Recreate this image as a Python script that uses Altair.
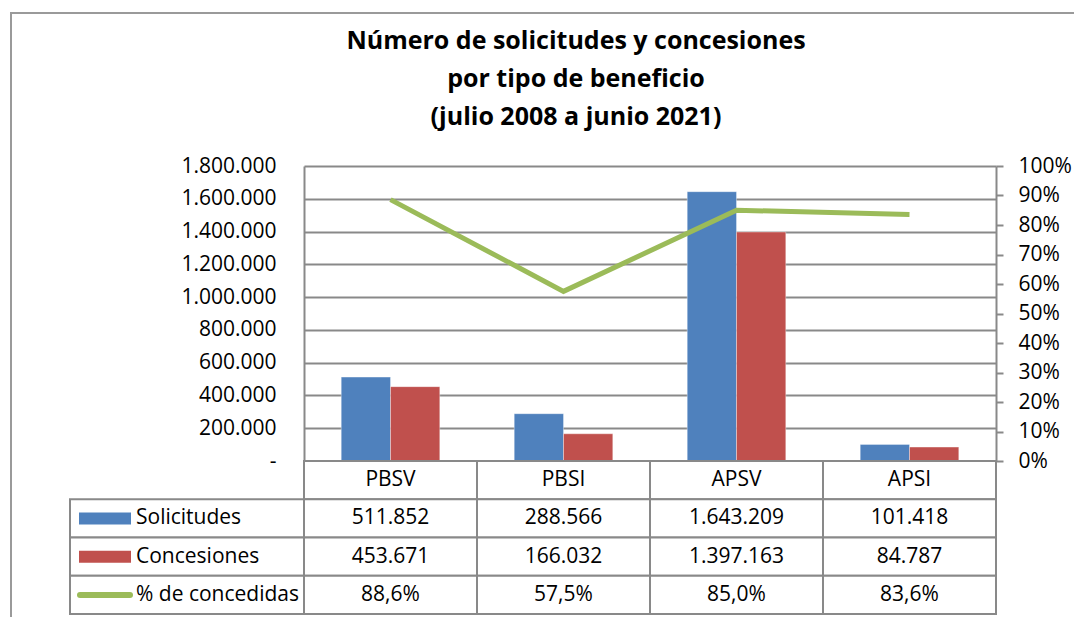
import altair as alt
import pandas as pd

# ---- data ----
categorias = ["PBSV", "PBSI", "APSV", "APSI"]
solicitudes = [511852, 288566, 1643209, 101418]
concesiones = [453671, 166032, 1397163, 84787]
pct_concedidas = [0.886, 0.575, 0.850, 0.836]

series = ["Solicitudes", "Concesiones", "% de concedidas"]
y_ticks = [0, 200000, 400000, 600000, 800000, 1000000, 1200000, 1400000, 1600000, 1800000]
pct_ticks = [0.0, 0.1, 0.2, 0.3, 0.4, 0.5, 0.6, 0.7, 0.8, 0.9, 1.0]
titulo = ["Número de solicitudes y concesiones", "por tipo de beneficio", "(julio 2008 a junio 2021)"]

# ---- styles ----
FONT = "Open Sans"
BLUE, RED, GREEN = "#4F81BD", "#C0504D", "#9BBB59"
GRID = "#898989"
FRAME = "#9a9a9a"
HDR = "Categoría"


def miles(v):
    return f"{v:,}".replace(",", ".")


def porc(p):
    return f"{p * 100:.1f}%".replace(".", ",")


bars_df = pd.DataFrame(
    [{"cat": c, "serie": series[0], "valor": v} for c, v in zip(categorias, solicitudes)]
    + [{"cat": c, "serie": series[1], "valor": v} for c, v in zip(categorias, concesiones)]
)
line_df = pd.DataFrame({"cat": categorias, "pct": pct_concedidas})

rows = []
for i, c in enumerate(categorias):
    rows.append({"row": HDR, "cat": c, "texto": c})
    rows.append({"row": series[0], "cat": c, "texto": miles(solicitudes[i])})
    rows.append({"row": series[1], "cat": c, "texto": miles(concesiones[i])})
    rows.append({"row": series[2], "cat": c, "texto": porc(pct_concedidas[i])})
table_df = pd.DataFrame(rows)
legend_df = pd.DataFrame({"row": series, "serie": series})

color_scale = alt.Scale(domain=series, range=[BLUE, RED, GREEN])
x_scale = alt.Scale(domain=categorias, paddingInner=0, paddingOuter=0)

# ---- main chart ----
x_main = alt.X("cat:N", sort=categorias, scale=x_scale, axis=None)

bars = alt.Chart(bars_df).mark_bar(stroke="white", strokeWidth=0.8, strokeOpacity=0.45).encode(
    x=x_main,
    xOffset=alt.XOffset("serie:N", sort=series[:2],
                        scale=alt.Scale(domain=series[:2], paddingInner=0, paddingOuter=0.755)),
    y=alt.Y("valor:Q",
            scale=alt.Scale(domain=[0, 1800000], nice=False),
            axis=alt.Axis(values=y_ticks, title=None, grid=True, gridColor=GRID, gridWidth=1.8,
                          ticks=False, domainColor=GRID, domainWidth=2,
                          labelExpr="datum.value == 0 ? '-\u00a0\u00a0' : replace(format(datum.value, ','), regexp(',', 'g'), '.')",
                          labelFont=FONT, labelFontSize=21, labelColor="black", labelPadding=28,
                          labelOverlap=False)),
    color=alt.Color("serie:N", scale=color_scale, legend=None),
)

line = alt.Chart(line_df).mark_line(color=GREEN, strokeWidth=5).encode(
    x=x_main,
    y=alt.Y("pct:Q",
            scale=alt.Scale(domain=[0, 1], nice=False),
            axis=alt.Axis(orient="right", values=pct_ticks, format=".0%", title=None, grid=False,
                          tickSize=7, tickColor=GRID, tickWidth=2, domainColor=GRID, domainWidth=2,
                          labelFont=FONT, labelFontSize=21, labelColor="black", labelPadding=15,
                          labelOverlap=False)),
)

main = alt.layer(bars, line).resolve_scale(y="independent").properties(
    width=692, height=295,
    title=alt.TitleParams(text=titulo, font=FONT, fontSize=25, fontWeight="bold", lineHeight=38,
                          anchor="middle", frame="group", dx=-74, color="black", offset=25),
)

# ---- data table ----
row_order = [HDR] + series
y_t = alt.Y("row:N", sort=row_order,
            scale=alt.Scale(domain=row_order, paddingInner=0, paddingOuter=0), axis=None)
x_t = alt.X("cat:N", sort=categorias, scale=x_scale, axis=None)

cells = alt.Chart(table_df).mark_rect(fill="white", stroke=GRID, strokeWidth=2).encode(x=x_t, y=y_t)
cell_text = alt.Chart(table_df).mark_text(font=FONT, fontSize=21, color="black").encode(
    x=x_t, y=y_t, text="texto:N")

leg_cells = alt.Chart(legend_df).mark_rect(fill="white", stroke=GRID, strokeWidth=2).encode(
    x=alt.value(-234), x2=alt.value(0), y=y_t)
leg_text = alt.Chart(legend_df).mark_text(font=FONT, fontSize=21, align="left", color="black").encode(
    x=alt.value(-168), y=y_t, text="serie:N")
sw_bar = alt.Chart(legend_df).transform_filter(
    alt.FieldOneOfPredicate(field="serie", oneOf=series[:2])
).mark_rule(strokeWidth=12).encode(
    x=alt.value(-225), x2=alt.value(-173), y=y_t,
    color=alt.Color("serie:N", scale=color_scale, legend=None))
sw_line = alt.Chart(legend_df).transform_filter(
    alt.FieldEqualPredicate(field="serie", equal=series[2])
).mark_rule(strokeWidth=6, strokeCap="round").encode(
    x=alt.value(-224), x2=alt.value(-174), y=y_t,
    color=alt.Color("serie:N", scale=color_scale, legend=None))

# outer chart-area frame (left and top edges, as in the reference)
frame_left = alt.Chart(legend_df.head(1)).mark_rule(color=FRAME, strokeWidth=2).encode(
    x=alt.value(-293), y=alt.value(-448), y2=alt.value(156))
frame_top = alt.Chart(legend_df.head(1)).mark_rule(color=FRAME, strokeWidth=2).encode(
    x=alt.value(-294), x2=alt.value(770), y=alt.value(-448))

table = alt.layer(frame_left, frame_top, cells, cell_text, leg_cells, leg_text, sw_bar, sw_line).properties(
    width=692, height=153)

chart = alt.vconcat(main, table, spacing=0, bounds="flush").properties(
    padding={"left": 1, "top": 4, "right": 0, "bottom": 0},
    background="white",
).configure_view(stroke=None)

chart.save("out.html", embed_options={"renderer": "svg", "actions": False})
